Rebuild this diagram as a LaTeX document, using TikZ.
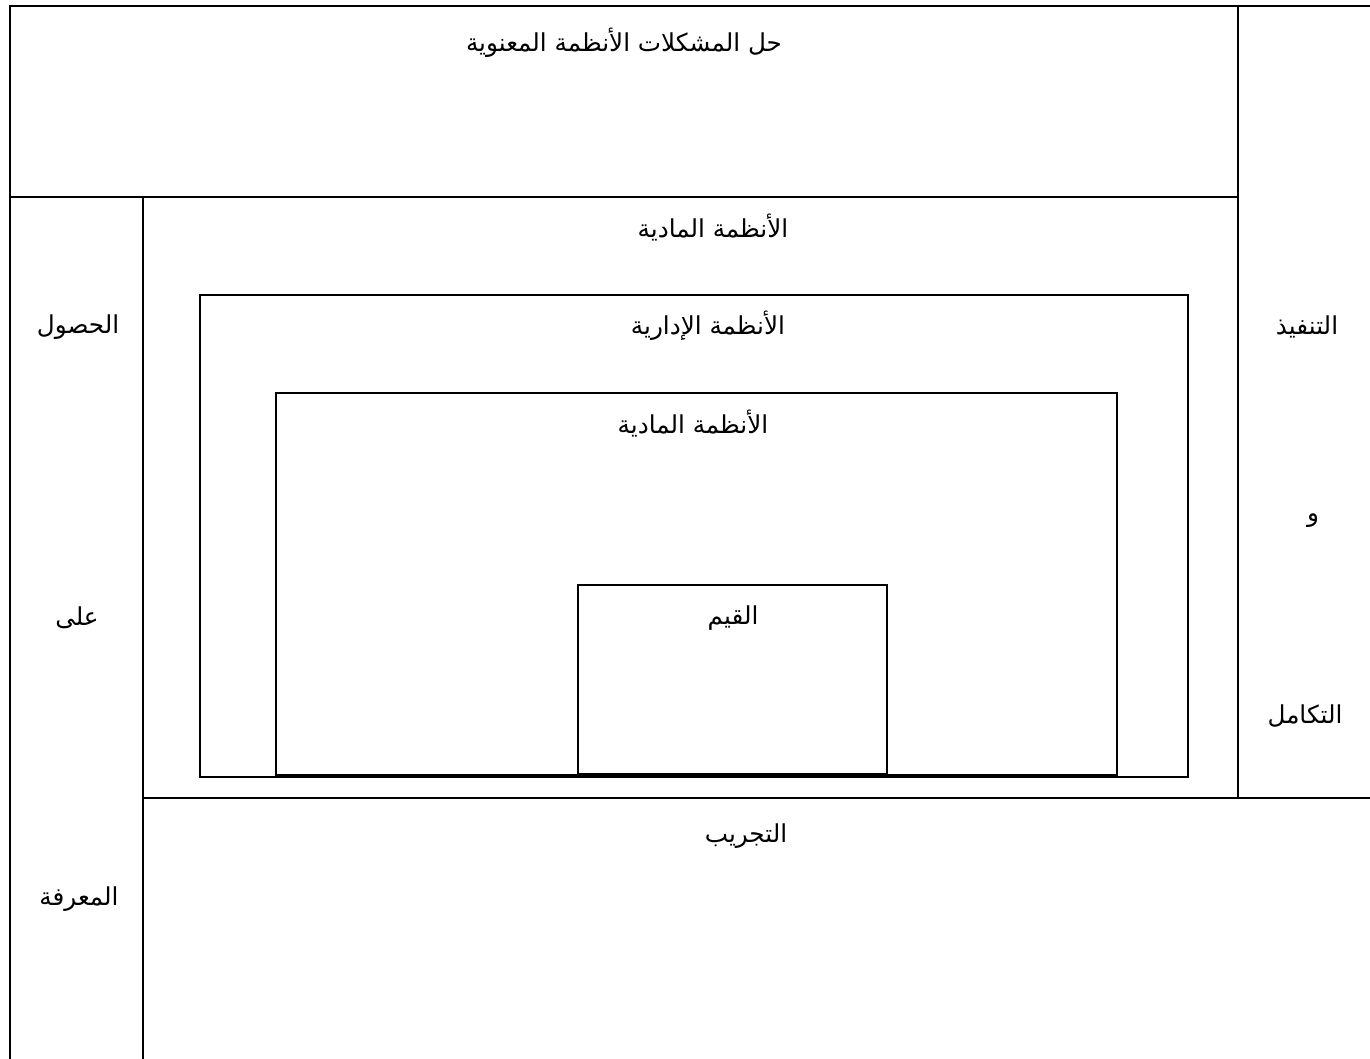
\documentclass[tikz,border=0pt]{standalone}
\usepackage{fontspec}
\TeXXeTstate=1
\newfontfamily\arabicfont[Script=Arabic]{DejaVu Sans}
\begin{document}
\begin{tikzpicture}[x=0.75pt,y=-0.75pt,
  frame/.style={line width=1.7pt,black},
  lbl/.style={font=\arabicfont\fontsize{18.5}{22}\selectfont,inner sep=0pt,anchor=center}]
\useasboundingbox[fill=white] (0,0) rectangle (1370,1059);
% frame lines
\coordinate (tl) at (10,6);
\coordinate (tr) at (1370,6);
\coordinate (bl) at (10,1059);
\draw[frame] (tr) -- (tl) -- (bl);
\draw[frame] (10,197) -- (1238,197);
\draw[frame] (1238,6) -- (1238,798);
\draw[frame] (143,197) -- (143,1059);
\draw[frame] (143,798) -- (1370,798);
% nested boxes
\draw[frame] (200,295) rectangle (1188,777);
\draw[frame] (276,393) rectangle (1117,775);
\draw[frame] (578,585) rectangle (887,774);
% labels
\node[lbl] (title) at (624,43) {\beginR حل المشكلات الأنظمة المعنوية\endR};
\node[lbl] (mat1) at (713,228) {\beginR الأنظمة المادية\endR};
\node[lbl] (adm) at (708,326) {\beginR الأنظمة الإدارية\endR};
\node[lbl] (mat2) at (693,424) {\beginR الأنظمة المادية\endR};
\node[lbl] (val) at (733,618) {\beginR القيم\endR};
\node[lbl] (exp) at (746,836) {\beginR التجريب\endR};
\node[lbl] (l1) at (78,327) {\beginR الحصول\endR};
\node[lbl] (l2) at (77,618) {\beginR على\endR};
\node[lbl] (l3) at (79,899) {\beginR المعرفة\endR};
\node[lbl] (r1) at (1307,327) {\beginR التنفيذ\endR};
\node[lbl] (r2) at (1313,521) {\beginR و\endR};
\node[lbl] (r3) at (1305,716) {\beginR التكامل\endR};
\end{tikzpicture}
\end{document}
